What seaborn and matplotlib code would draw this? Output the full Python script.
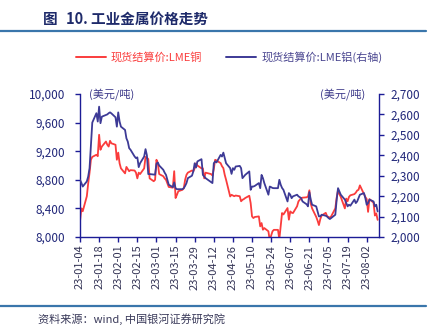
import matplotlib
matplotlib.use("Agg")
import matplotlib.pyplot as plt
import matplotlib.dates as mdates
import seaborn as sns
import pandas as pd
from matplotlib.lines import Line2D

# ---------------- data ----------------
copper_dates = [
    "01-04","01-05","01-06","01-09","01-10","01-11","01-12","01-13","01-16","01-17",
    "01-18","01-19","01-20","01-23","01-24","01-25","01-26","01-27","01-30","01-31",
    "02-01","02-02","02-03","02-06","02-07","02-08","02-09","02-10","02-13","02-14",
    "02-15","02-16","02-17","02-20","02-21","02-22","02-23","02-24","02-27","02-28",
    "03-01","03-02","03-03","03-06","03-07","03-08","03-09","03-10","03-13","03-14",
    "03-15","03-16","03-17","03-20","03-21","03-22","03-23","03-24","03-27","03-28",
    "03-29","03-30","03-31","04-03","04-04","04-05","04-06","04-10","04-11","04-12",
    "04-13","04-14","04-17","04-18","04-19","04-20","04-21","04-24","04-25","04-26",
    "04-27","04-28","05-01","05-02","05-03","05-04","05-05","05-08","05-09","05-10",
    "05-11","05-12","05-15","05-16","05-17","05-18","05-19","05-22","05-23","05-24",
    "05-25","05-26","05-29","05-30","05-31","06-01","06-02","06-05","06-06","06-07",
    "06-08","06-09","06-12","06-13","06-14","06-15","06-16","06-19","06-20","06-21",
    "06-22","06-23","06-26","06-27","06-28","06-29","06-30","07-03","07-04","07-05",
    "07-06","07-07","07-10","07-11","07-12","07-13","07-14","07-17","07-18","07-19",
    "07-20","07-21","07-24","07-25","07-26","07-27","07-28","07-31","08-01","08-02",
    "08-03","08-04","08-07","08-08","08-09","08-10",
]
copper_vals = [
    8220, 8400, 8360, 8570, 8750, 8900, 9080, 9120, 9150, 9130,
    9430, 9220, 9265, 9335, 9290, 9265, 9345, 9310, 9290, 9080,
    9180, 9030, 8960, 8890, 8980, 8950, 8920, 8935, 8930, 8900,
    8820, 8900, 8880, 8960, 9120, 9110, 9090, 8820, 8780, 8800,
    9080, 9030, 8880, 8850, 8820, 8800, 8750, 8700, 8690, 8920,
    8545, 8590, 8640, 8660, 8680, 8800, 8870, 8900, 8930, 8920,
    8960, 9030, 9000, 8960, 8960, 8820, 8900, 8880, 8860, 8950,
    9080, 9070, 9033, 8990, 8963, 8870, 8800, 8567, 8590, 8580,
    8570, 8580, 8570, 8500, 8520, 8530, 8545, 8577, 8474, 8288,
    8265, 8280, 8288, 8149, 8195, 8102, 8125, 8080, 7950, 8020,
    8080, 8100, 8100, 7970, 8150, 8335, 8315, 8405, 8242, 8358,
    8340, 8335, 8430, 8498, 8520, 8544, 8550, 8555, 8567, 8653,
    8468, 8400, 8282, 8230, 8167, 8250, 8300, 8338, 8290, 8280,
    8270, 8290, 8400, 8550, 8653, 8600, 8560, 8400, 8537, 8500,
    8560, 8583, 8600, 8620, 8650, 8660, 8722, 8600, 8560, 8530,
    8351, 8530, 8480, 8300, 8330, 8240,
]

alum_dates = [
    "01-04","01-05","01-06","01-09","01-10","01-11","01-12","01-13","01-16","01-17",
    "01-18","01-19","01-20","01-23","01-24","01-25","01-26","01-27","01-30","01-31",
    "02-01","02-02","02-03","02-06","02-07","02-08","02-09","02-10","02-13","02-14",
    "02-15","02-16","02-17","02-20","02-21","02-22","02-23","02-24","02-27","02-28",
    "03-01","03-02","03-03","03-06","03-07","03-08","03-09","03-10","03-13","03-14",
    "03-15","03-16","03-17","03-20","03-21","03-22","03-23","03-24","03-27","03-28",
    "03-29","03-30","03-31","04-03","04-04","04-05","04-06","04-11","04-12","04-13",
    "04-14","04-17","04-18","04-19","04-20","04-21","04-24","04-25","04-26","04-27",
    "04-28","05-01","05-02","05-03","05-04","05-05","05-08","05-09","05-10","05-11",
    "05-12","05-15","05-16","05-17","05-18","05-19","05-22","05-23","05-24","05-25",
    "05-26","05-29","05-30","05-31","06-01","06-02","06-05","06-06","06-07","06-08",
    "06-09","06-12","06-13","06-14","06-15","06-16","06-19","06-20","06-21","06-22",
    "06-23","06-26","06-27","06-28","06-29","06-30","07-03","07-04","07-05","07-06",
    "07-07","07-10","07-11","07-12","07-13","07-14","07-17","07-18","07-19","07-20",
    "07-21","07-24","07-25","07-26","07-27","07-28","07-31","08-01","08-02","08-03",
    "08-04","08-07","08-08","08-09","08-10",
]
alum_vals = [
    2280, 2265, 2247, 2272, 2296, 2337, 2451, 2560, 2606, 2565,
    2638, 2557, 2589, 2597, 2600, 2606, 2610, 2605, 2586, 2540,
    2610, 2565, 2540, 2524, 2483, 2467, 2435, 2427, 2394, 2386,
    2390, 2342, 2361, 2394, 2430, 2400, 2308, 2308, 2306, 2305,
    2358, 2365, 2350, 2329, 2315, 2304, 2280, 2256, 2244, 2267,
    2239, 2234, 2234, 2234, 2239, 2250, 2264, 2288, 2300, 2321,
    2361, 2340, 2370, 2381, 2304, 2296, 2288, 2264, 2361, 2370,
    2365, 2402, 2394, 2413, 2386, 2361, 2337, 2309, 2337, 2329,
    2345, 2348, 2337, 2288, 2296, 2304, 2321, 2231, 2247, 2247,
    2250, 2264, 2239, 2304, 2288, 2264, 2207, 2247, 2244, 2240,
    2239, 2239, 2280, 2256, 2240, 2231, 2174, 2215, 2207, 2190,
    2199, 2207, 2199, 2195, 2190, 2174, 2160, 2150, 2220, 2183,
    2158, 2150, 2125, 2101, 2101, 2109, 2104, 2100, 2093, 2088,
    2093, 2109, 2183, 2239, 2223, 2207, 2183, 2166, 2150, 2158,
    2153, 2183, 2166, 2174, 2190, 2207, 2215, 2190, 2158, 2166,
    2183, 2174, 2150, 2158, 2125,
]

copper_label = "现货结算价:LME铜"
alum_label = "现货结算价:LME铝(右轴)"
title_head = "图"
title_text = "10. 工业金属价格走势"
source_text = "资料来源：wind, 中国银河证券研究院"
unit_text = "(美元/吨)"
left_ticks = [8000, 8400, 8800, 9200, 9600, 10000]
right_ticks = [2000, 2100, 2200, 2300, 2400, 2500, 2600, 2700]

# ---------------- styling ----------------
sns.set_theme(style="white")
plt.rcParams["font.family"] = ["Noto Sans CJK SC", "DejaVu Sans"]

RED = "#fa3c3c"
NAVY = "#3d3a96"
AXC = "#1c1c96"
LBL = "#22287a"
RULE = "#3a76ab"

cu = pd.DataFrame({"date": pd.to_datetime(["2023-" + d for d in copper_dates]),
                   "value": copper_vals})
al = pd.DataFrame({"date": pd.to_datetime(["2023-" + d for d in alum_dates]),
                   "value": alum_vals})

fig = plt.figure(figsize=(4.41, 3.30), dpi=100)
ax = fig.add_axes([0.1814, 0.2818, 0.678, 0.4334])
ax2 = ax.twinx()

sns.lineplot(data=cu, x="date", y="value", ax=ax, color=RED, linewidth=1.3, legend=False)
sns.lineplot(data=al, x="date", y="value", ax=ax2, color=NAVY, linewidth=1.3, legend=False)

ax.set_xlim(pd.Timestamp("2023-01-04"), pd.Timestamp("2023-08-11"))
ax.set_ylim(8000, 10000)
ax2.set_ylim(2000, 2700)
ax.set_yticks(left_ticks)
ax2.set_yticks(right_ticks)
ax.set_yticklabels([f"{v:,}" for v in left_ticks])
ax2.set_yticklabels([f"{v:,}" for v in right_ticks])

xt = pd.date_range("2023-01-04", "2023-08-02", freq="14D")
ax.set_xticks(xt)
ax.xaxis.set_major_formatter(mdates.DateFormatter("%y-%m-%d"))

for a in (ax, ax2):
    a.set_xlabel("")
    a.set_ylabel("")
    a.grid(False)
    a.set_facecolor("none")
    for s in a.spines.values():
        s.set_visible(False)

ax.spines["left"].set_visible(True)
ax.spines["bottom"].set_visible(True)
ax2.spines["right"].set_visible(True)
for s in (ax.spines["left"], ax.spines["bottom"], ax2.spines["right"]):
    s.set_color(AXC)
    s.set_linewidth(1.0)

ax.tick_params(axis="y", which="both", left=True, length=3.5, width=1, color=AXC,
               labelsize=8.5, labelcolor=LBL, pad=7)
ax.tick_params(axis="x", which="both", bottom=True, length=3.5, width=1, color=AXC,
               labelsize=8, labelcolor="#333355", pad=2, rotation=90)
ax2.tick_params(axis="y", which="both", right=True, length=3.5, width=1, color=AXC,
                labelsize=8.5, labelcolor=LBL, pad=5)

# unit labels
ax.text(0.03, 1.0, unit_text, transform=ax.transAxes, ha="left", va="center",
        fontsize=8, color="#3d3a8a")
ax.text(0.955, 1.0, unit_text, transform=ax.transAxes, ha="right", va="center",
        fontsize=8, color="#3d3a8a")

# title and rules
fig.text(43 / 441, 1 - 19 / 330, title_head, ha="left", va="center",
         fontsize=10.5, fontweight="bold", color="#1e2a6a")
fig.text(66 / 441, 1 - 19 / 330, title_text, ha="left", va="center",
         fontsize=10.5, fontweight="bold", color="#1e2a6a")
fig.add_artist(Line2D([0, 426 / 441], [1 - 31 / 330, 1 - 31 / 330],
                      transform=fig.transFigure, color=RULE, linewidth=1.6))
fig.add_artist(Line2D([0, 426 / 441], [1 - 306 / 330, 1 - 306 / 330],
                      transform=fig.transFigure, color=RULE, linewidth=1.6))
fig.text(38 / 441, 1 - 319 / 330, source_text, ha="left", va="center",
         fontsize=8, style="italic", color="#3a3a5a")

# legend
handles = [Line2D([], [], color=RED, linewidth=1.4),
           Line2D([], [], color=NAVY, linewidth=1.4)]
leg = fig.legend(handles, [copper_label, alum_label], loc="center",
                 bbox_to_anchor=(229 / 441, 1 - 57 / 330), ncol=2, frameon=False,
                 fontsize=8, handlelength=2.7, handletextpad=0.45, columnspacing=2.2)
leg.get_texts()[0].set_color(RED)
leg.get_texts()[1].set_color("#4a4690")

fig.savefig("out.png", dpi=100)
